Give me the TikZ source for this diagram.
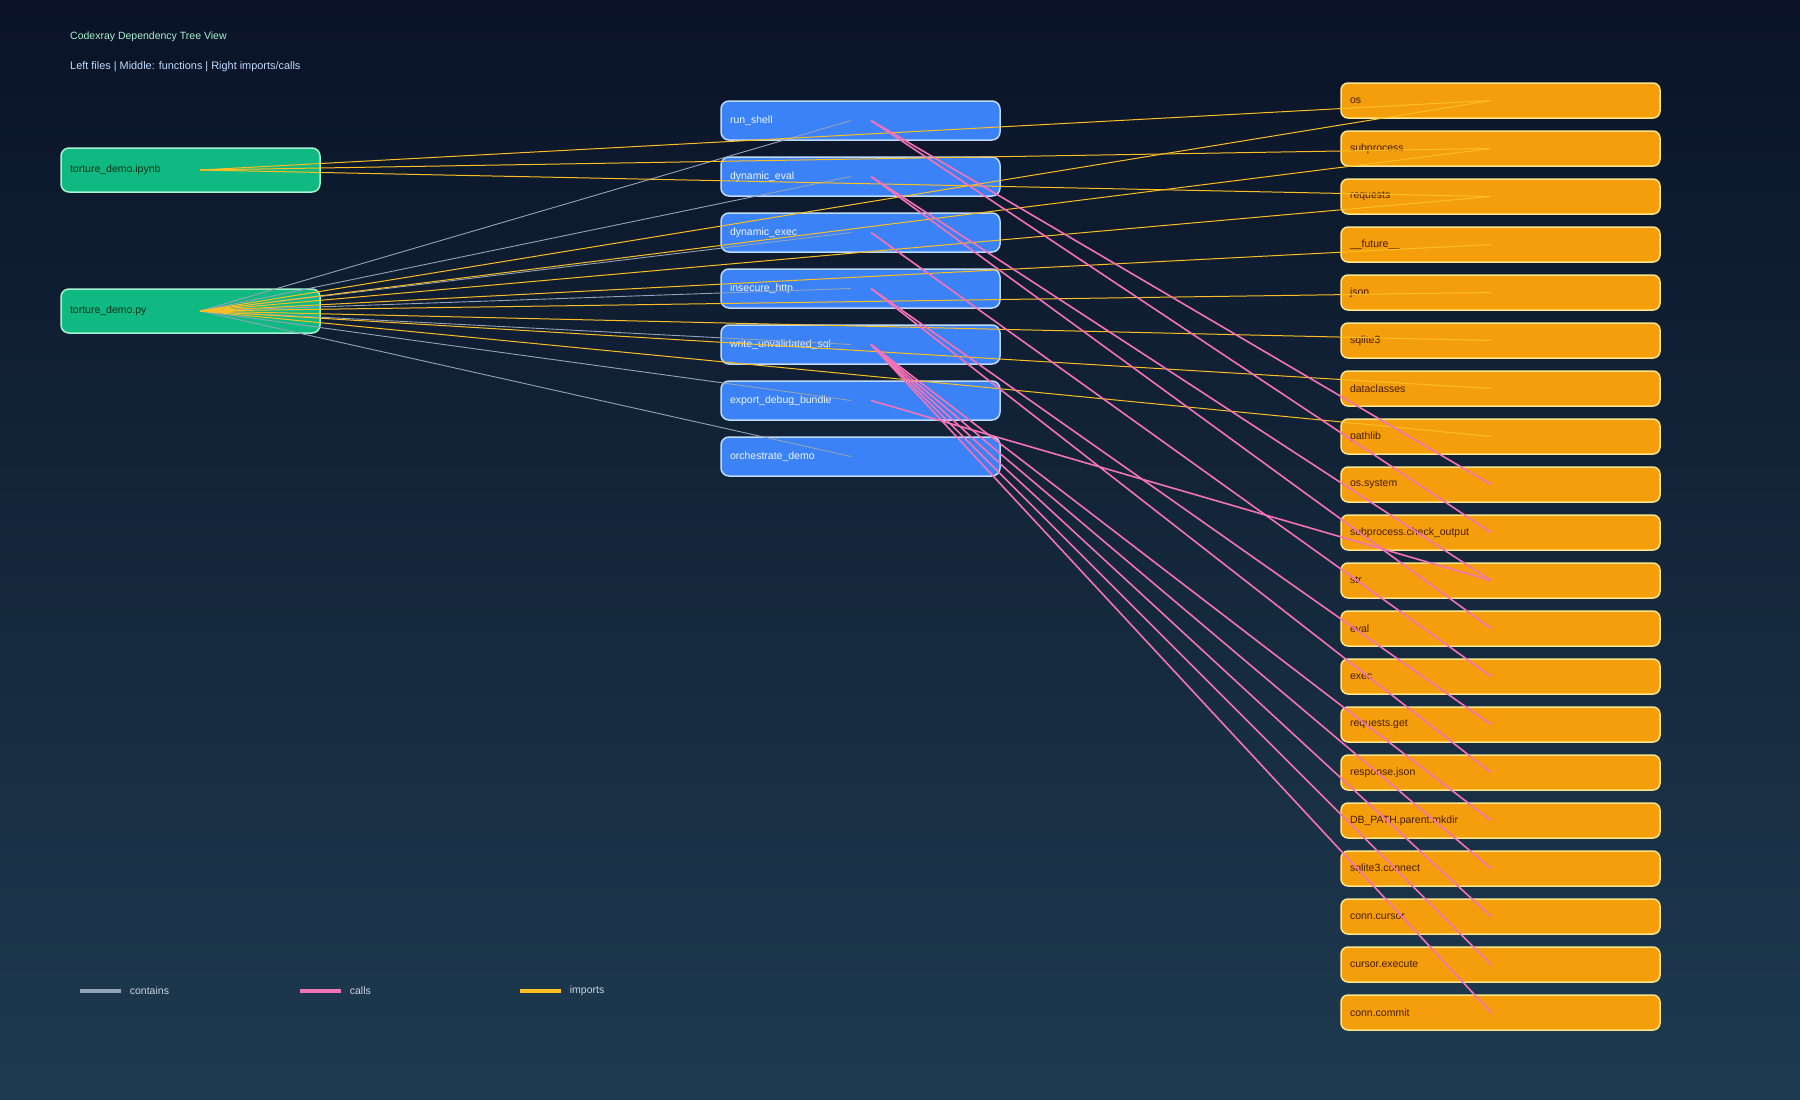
\documentclass[tikz,border=0pt]{standalone}
\usepackage{fontspec}
\setmainfont{Liberation Sans}
\usetikzlibrary{positioning}

\definecolor{bgtop}{HTML}{0A1327}
\definecolor{bgbottom}{HTML}{1E3A4F}
\definecolor{filefill}{HTML}{10B981}
\definecolor{fileline}{HTML}{A7F3D0}
\definecolor{filetext}{HTML}{052E16}
\definecolor{funcfill}{HTML}{3B82F6}
\definecolor{funcline}{HTML}{BFDBFE}
\definecolor{functext}{HTML}{EFF6FF}
\definecolor{modfill}{HTML}{F59E0B}
\definecolor{modline}{HTML}{FDE68A}
\definecolor{modtext}{HTML}{451A03}
\definecolor{containscol}{HTML}{94A3B8}
\definecolor{callscol}{HTML}{F472B6}
\definecolor{importscol}{HTML}{FBBF24}
\definecolor{titlecol}{HTML}{A7F3D0}
\definecolor{subcol}{HTML}{BFDBFE}
\definecolor{legendcol}{HTML}{CBD5E1}

\begin{document}
\begin{tikzpicture}[
  x=1pt, y=-1pt,
  font=\fontsize{10.5}{12}\selectfont,
  node distance=13pt,
  box/.style={draw,line width=1.5pt,rounded corners=8pt,outer sep=0pt,
    inner xsep=9pt,inner ysep=0pt,align=left},
  filebox/.style={box,fill=filefill,draw=fileline,text=filetext,
    text width=241pt,minimum height=44pt},
  funcbox/.style={box,fill=funcfill,draw=funcline,text=functext,
    text width=261pt,minimum height=39pt},
  modbox/.style={box,fill=modfill,draw=modline,text=modtext,
    text width=301pt,minimum height=35pt,rounded corners=7pt},
  contains/.style={containscol,line width=0.9pt},
  calls/.style={callscol,line width=1.6pt},
  imports/.style={importscol,line width=1pt},
  keybar/.style={minimum width=41pt,minimum height=4pt,inner sep=0pt},
  keytext/.style={text=legendcol,inner sep=0pt}
]
\useasboundingbox (0,0) rectangle (1800,1100);
\fill[top color=bgtop,bottom color=bgbottom] (0,0) rectangle (1800,1100);

\node[anchor=west,text=titlecol,inner sep=0pt] (title) at (70,37)
{Codexray Dependency Tree View};
\node[anchor=west,text=subcol,inner sep=0pt,font=\fontsize{10.9}{12}\selectfont]
(subtitle) at (70,67) {Left files | Middle: functions | Right imports/calls};

\node[filebox,anchor=north west] (ipynb) at (61,148) {torture\_demo.ipynb};
\node[filebox,below=97pt of ipynb] (py) {torture\_demo.py};

\node[funcbox,anchor=north west] (runshell) at (721,101) {run\_shell};
\node[funcbox,below=17pt of runshell] (dyneval) {dynamic\_eval};
\node[funcbox,below=17pt of dyneval] (dynexec) {dynamic\_exec};
\node[funcbox,below=17pt of dynexec] (http) {insecure\_http};
\node[funcbox,below=17pt of http] (sql) {write\_unvalidated\_sql};
\node[funcbox,below=17pt of sql] (bundle) {export\_debug\_bundle};
\node[funcbox,below=17pt of bundle] (orchestrate) {orchestrate\_demo};

\node[modbox,anchor=north west] (os) at (1341,83) {os};
\node[modbox,below=of os] (subprocess) {subprocess};
\node[modbox,below=of subprocess] (requests) {requests};
\node[modbox,below=of requests] (future) {\_\_future\_\_};
\node[modbox,below=of future] (json) {json};
\node[modbox,below=of json] (sqlite) {sqlite3};
\node[modbox,below=of sqlite] (dataclasses) {dataclasses};
\node[modbox,below=of dataclasses] (pathlib) {pathlib};
\node[modbox,below=of pathlib] (ossystem) {os.system};
\node[modbox,below=of ossystem] (checkoutput) {subprocess.check\_output};
\node[modbox,below=of checkoutput] (str) {str};
\node[modbox,below=of str] (eval) {eval};
\node[modbox,below=of eval] (exec) {exec};
\node[modbox,below=of exec] (reqget) {requests.get};
\node[modbox,below=of reqget] (respjson) {response.json};
\node[modbox,below=of respjson] (mkdir) {DB\_PATH.parent.mkdir};
\node[modbox,below=of mkdir] (connect) {sqlite3.connect};
\node[modbox,below=of connect] (cursor) {conn.cursor};
\node[modbox,below=of cursor] (execute) {cursor.execute};
\node[modbox,below=of execute] (commit) {conn.commit};

\draw[contains] ([xshift=139pt]py.west) -- ([xshift=130pt]runshell.west);
\draw[contains] ([xshift=139pt]py.west) -- ([xshift=130pt]dyneval.west);
\draw[contains] ([xshift=139pt]py.west) -- ([xshift=130pt]dynexec.west);
\draw[contains] ([xshift=139pt]py.west) -- ([xshift=130pt]http.west);
\draw[contains] ([xshift=139pt]py.west) -- ([xshift=130pt]sql.west);
\draw[contains] ([xshift=139pt]py.west) -- ([xshift=130pt]bundle.west);
\draw[contains] ([xshift=139pt]py.west) -- ([xshift=130pt]orchestrate.west);

\draw[imports] ([xshift=139pt]ipynb.west) -- ([xshift=150pt]os.west);
\draw[imports] ([xshift=139pt]ipynb.west) -- ([xshift=150pt]subprocess.west);
\draw[imports] ([xshift=139pt]ipynb.west) -- ([xshift=150pt]requests.west);
\draw[imports] ([xshift=139pt]py.west) -- ([xshift=150pt]os.west);
\draw[imports] ([xshift=139pt]py.west) -- ([xshift=150pt]subprocess.west);
\draw[imports] ([xshift=139pt]py.west) -- ([xshift=150pt]requests.west);
\draw[imports] ([xshift=139pt]py.west) -- ([xshift=150pt]future.west);
\draw[imports] ([xshift=139pt]py.west) -- ([xshift=150pt]json.west);
\draw[imports] ([xshift=139pt]py.west) -- ([xshift=150pt]sqlite.west);
\draw[imports] ([xshift=139pt]py.west) -- ([xshift=150pt]dataclasses.west);
\draw[imports] ([xshift=139pt]py.west) -- ([xshift=150pt]pathlib.west);

\draw[calls] ([xshift=150pt]runshell.west) -- ([xshift=150pt]ossystem.west);
\draw[calls] ([xshift=150pt]runshell.west) -- ([xshift=150pt]checkoutput.west);
\draw[calls] ([xshift=150pt]dyneval.west) -- ([xshift=150pt]str.west);
\draw[calls] ([xshift=150pt]dyneval.west) -- ([xshift=150pt]eval.west);
\draw[calls] ([xshift=150pt]dynexec.west) -- ([xshift=150pt]exec.west);
\draw[calls] ([xshift=150pt]http.west) -- ([xshift=150pt]reqget.west);
\draw[calls] ([xshift=150pt]http.west) -- ([xshift=150pt]respjson.west);
\draw[calls] ([xshift=150pt]sql.west) -- ([xshift=150pt]mkdir.west);
\draw[calls] ([xshift=150pt]sql.west) -- ([xshift=150pt]connect.west);
\draw[calls] ([xshift=150pt]sql.west) -- ([xshift=150pt]cursor.west);
\draw[calls] ([xshift=150pt]sql.west) -- ([xshift=150pt]execute.west);
\draw[calls] ([xshift=150pt]sql.west) -- ([xshift=150pt]commit.west);
\draw[calls] ([xshift=150pt]bundle.west) -- ([xshift=150pt]str.west);

\node[keybar,fill=containscol] (keycontains) at (100.5,991) {};
\node[keytext,right=8.5pt of keycontains] (labcontains) {contains};
\node[keybar,fill=callscol] (keycalls) at (320.5,991) {};
\node[keytext,right=8.5pt of keycalls] (labcalls) {calls};
\node[keybar,fill=importscol] (keyimports) at (540.5,991) {};
\node[keytext,right=8.5pt of keyimports] (labimports) {imports};
\end{tikzpicture}
\end{document}
